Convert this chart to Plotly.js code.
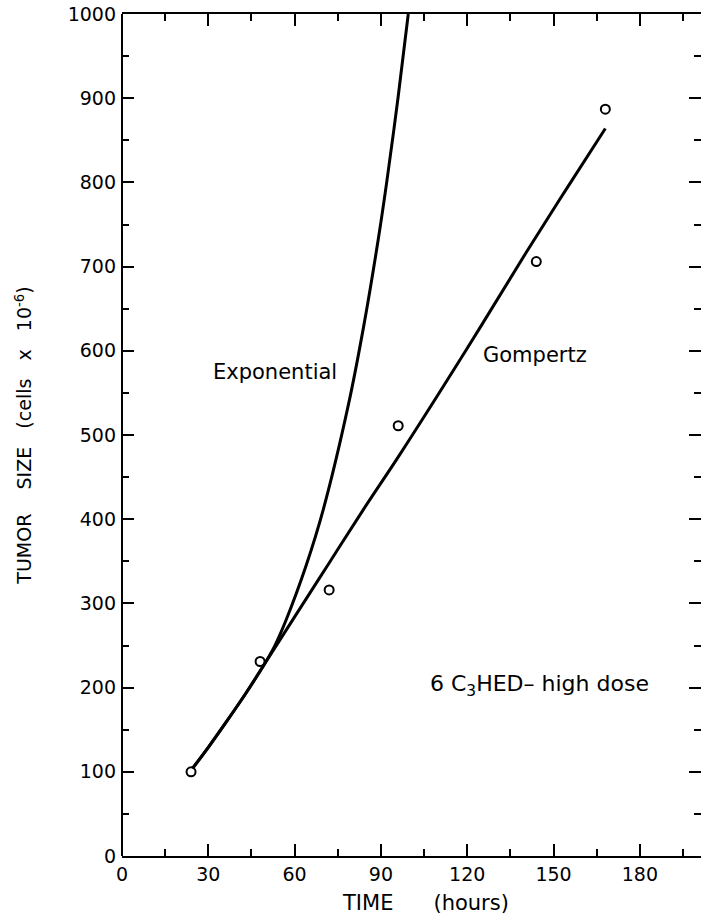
<!DOCTYPE html>
<html>
<head>
<meta charset="utf-8">
<script src="https://cdn.plot.ly/plotly-3.0.1.min.js"></script>
<style>
html, body { margin: 0; padding: 0; overflow: hidden; background: #fff; }
#chart { width: 701px; height: 914px; }
</style>
</head>
<body>
<div id="chart"></div>
<script>
// Observed tumor sizes (cells x 10^-6)
const obsTime = [24, 48, 72, 96, 144, 168];
const obsSize = [100, 231, 316, 511, 706, 887];

// Gompertz fitted curve
const gompTime = [24.5, 30, 36, 43, 49, 60, 72, 84, 96.6, 120, 140.7, 155, 168];
const gompSize = [104, 129, 158, 193, 225, 284, 348, 412, 477, 603, 718, 795, 864];

// Exponential fitted curve
const expTime = [24.5, 30, 36, 43, 49, 53, 57, 64, 70, 78.7, 84, 89.1, 92, 96, 99.5];
const expSize = [104, 129, 158, 193, 225, 249, 280, 345, 412, 536, 629, 733, 800, 902, 1000];

const xTicks = [0, 30, 60, 90, 120, 150, 180];
const yTicks = [0, 100, 200, 300, 400, 500, 600, 700, 800, 900, 1000];

const FONT = "DejaVu Sans, Verdana, sans-serif";
const black = "#000";
const NB = "\u00a0";

const traces = [
  {x: gompTime, y: gompSize, mode: "lines", type: "scatter", name: "Gompertz",
   line: {color: black, width: 3, shape: "spline", smoothing: 1}, hoverinfo: "skip"},
  {x: expTime, y: expSize, mode: "lines", type: "scatter", name: "Exponential",
   line: {color: black, width: 3, shape: "spline", smoothing: 1}, hoverinfo: "skip"},
  {x: obsTime, y: obsSize, mode: "markers", type: "scatter", name: "Observed",
   marker: {symbol: "circle-open", size: 9, color: black, line: {width: 2, color: black}}}
];

const layout = {
  width: 701, height: 914,
  margin: {l: 122, r: 0, t: 14, b: 58},
  paper_bgcolor: "#fff", plot_bgcolor: "#fff",
  showlegend: false,
  font: {family: FONT, color: black, size: 19},
  xaxis: {
    range: [0, 201.25], tickvals: xTicks, ticktext: xTicks.map(String),
    ticks: "inside", ticklen: 12, tickwidth: 2, tickcolor: black,
    showline: true, linewidth: 2, linecolor: black, mirror: "allticks",
    showgrid: false, zeroline: false,
    tickfont: {family: FONT, size: 19, color: black},
    minor: {dtick: 15, tick0: 0, ticks: "inside", ticklen: 7, tickwidth: 2, tickcolor: black, showgrid: false}
  },
  yaxis: {
    range: [0, 1000], tickvals: yTicks, ticktext: yTicks.map(String),
    ticks: "inside", ticklen: 12, tickwidth: 2, tickcolor: black,
    showline: false, mirror: "allticks",
    showgrid: false, zeroline: false,
    tickfont: {family: FONT, size: 19, color: black}, ticklabelstandoff: 5,
    minor: {dtick: 50, tick0: 0, ticks: "inside", ticklen: 7, tickwidth: 2, tickcolor: black, showgrid: false},
    title: {text: "TUMOR" + NB.repeat(4) + "SIZE" + NB.repeat(3) + "(cells" + NB.repeat(3) + "x" + NB.repeat(3) + "10<sup>-6</sup>)",
            font: {family: FONT, size: 19, color: black}, standoff: 30}
  },
  shapes: [
    {type: "line", xref: "paper", yref: "paper", x0: 0, x1: 0, y0: 0, y1: 1,
     line: {color: black, width: 2}}
  ],
  annotations: [
    {x: 0.525, y: -0.056, xref: "paper", yref: "paper", xanchor: "center", yanchor: "middle",
     text: "TIME" + NB.repeat(6) + "(hours)", showarrow: false,
     font: {family: FONT, size: 21, color: black}},
    {x: 53.2, y: 575, xref: "x", yref: "y", text: "Exponential", showarrow: false,
     font: {family: FONT, size: 21, color: black}},
    {x: 143.5, y: 595, xref: "x", yref: "y", text: "Gompertz", showarrow: false,
     font: {family: FONT, size: 21, color: black}},
    {x: 145, y: 203, xref: "x", yref: "y", text: "6 C<sub>3</sub>HED\u2013 high dose", showarrow: false,
     font: {family: FONT, size: 22, color: black}}
  ]
};

Plotly.newPlot("chart", traces, layout, {displayModeBar: false, staticPlot: true});
</script>
</body>
</html>
